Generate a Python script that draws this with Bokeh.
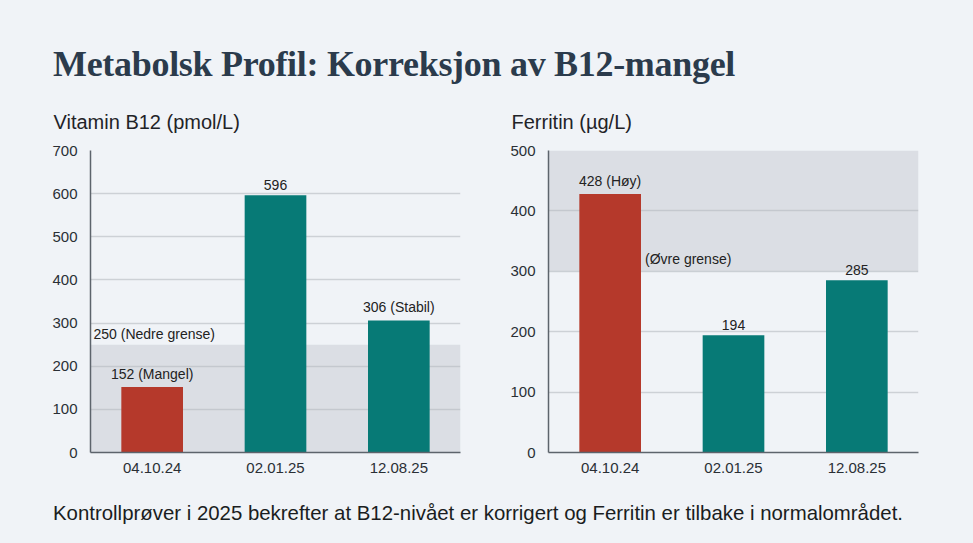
from bokeh.plotting import figure
from bokeh.models import Div, BoxAnnotation, Label, Range1d, FixedTicker, ColumnDataSource, LabelSet
from bokeh.layouts import column, row
from bokeh.core.properties import value
from bokeh.embed import file_html
from bokeh.resources import INLINE

# ---- data ----
dates = ["04.10.24", "02.01.25", "12.08.25"]
b12_values = [152, 596, 306]
b12_labels = ["152 (Mangel)", "596", "306 (Stabil)"]
b12_limit = 250
b12_limit_label = "250 (Nedre grense)"
ferritin_values = [428, 194, 285]
ferritin_labels = ["428 (Høy)", "194", "285"]
ferritin_limit = 300
ferritin_limit_top = 500
ferritin_limit_label = "(Øvre grense)"
title_text = "Metabolsk Profil: Korreksjon av B12-mangel"
b12_title = "Vitamin B12 (pmol/L)"
ferritin_title = "Ferritin (µg/L)"
footer_text = "Kontrollprøver i 2025 bekrefter at B12-nivået er korrigert og Ferritin er tilbake i normalområdet."

BG = "#f0f3f7"
RED = "#b5392b"
TEAL = "#077a76"
FONT = "Liberation Sans"
BAR_W = 0.5


def make_chart(title, values, labels, colors, ymax, band, border_left, border_right):
    p = figure(width=border_left + 370 + border_right, height=393,
               output_backend="svg", toolbar_location=None,
               x_range=Range1d(0, len(dates)), y_range=Range1d(0, ymax),
               min_border_left=border_left, min_border_right=border_right,
               min_border_top=55, min_border_bottom=32,
               background_fill_color=BG, border_fill_color=BG,
               outline_line_color=None)
    p.title.text = title
    p.title.text_font = FONT
    p.title.text_font_size = "20px"
    p.title.text_font_style = "normal"
    p.title.text_color = "#1f2328"
    p.title.offset = -37
    p.title.standoff = 35

    xs = [i + 0.5 for i in range(len(dates))]
    src = ColumnDataSource(dict(x=xs, top=values, color=colors, label=labels))
    p.vbar(x="x", top="top", width=BAR_W, bottom=0, color="color", source=src, line_color=None)
    p.add_layout(LabelSet(x="x", y="top", text="label", source=src, text_align="center",
                          text_baseline="bottom", y_offset=5, text_font=value(FONT),
                          text_font_size=value("14px"), text_color=value("#222222")))

    box = BoxAnnotation(bottom=band[0], top=band[1], fill_color="#b4b8bf", fill_alpha=0.35,
                        line_color=None, level="underlay")
    p.add_layout(box)

    p.xaxis.ticker = FixedTicker(ticks=xs)
    p.xaxis.major_label_overrides = {x: d for x, d in zip(xs, dates)}
    p.yaxis.ticker = FixedTicker(ticks=list(range(0, ymax + 1, 100)))
    for ax in (p.xaxis, p.yaxis):
        ax.major_tick_line_color = None
        ax.minor_tick_line_color = None
        ax.major_label_text_font = FONT
        ax.major_label_text_font_size = "15px"
        ax.major_label_text_color = "#2a2f35"
        ax.axis_line_color = "#5d646c"
        ax.axis_line_width = 1.5
    p.xaxis.major_label_standoff = 4
    p.yaxis.major_label_standoff = 7
    p.xgrid.grid_line_color = None
    p.ygrid.grid_line_color = "#cdd1d6"
    p.ygrid.grid_line_width = 1.5
    return p, xs


p1, xs = make_chart(b12_title, b12_values, b12_labels, [RED, TEAL, TEAL], 700,
                    (0, b12_limit), 90, 26)
p1.add_layout(Label(x=0, y=b12_limit, text=b12_limit_label, x_offset=3, y_offset=3,
                    text_font=FONT, text_font_size="14px", text_color="#222222",
                    text_baseline="bottom"))

p2, xs2 = make_chart(ferritin_title, ferritin_values, ferritin_labels, [RED, TEAL, TEAL], 500,
                     (ferritin_limit, ferritin_limit_top), 62, 55)
p2.add_layout(Label(x=xs2[0] + BAR_W / 2, y=ferritin_limit, text=ferritin_limit_label,
                    x_offset=4, y_offset=4, text_font=FONT, text_font_size="14px",
                    text_color="#222222", text_baseline="bottom"))

title_div = Div(text=f'<div style="margin-top:39px;padding-left:48px;font-family:\'Liberation Serif\';'
                     f'font-weight:bold;font-size:36px;line-height:40px;color:#2b3b4c;'
                     f'letter-spacing:-0.3px;white-space:nowrap">{title_text}</div>',
                width=973, height=81, styles={"background-color": BG})
footer_div = Div(text=f'<div style="margin-top:12px;padding-left:48px;font-family:\'Liberation Sans\';'
                      f'font-size:20.4px;line-height:24px;color:#1a1d21;white-space:nowrap">{footer_text}</div>',
                 width=973, height=50, styles={"background-color": BG})

layout = column(title_div, row(p1, p2, spacing=0), footer_div, spacing=0,
                styles={"background-color": BG})

open("out.html", "w").write(file_html(layout, INLINE))
